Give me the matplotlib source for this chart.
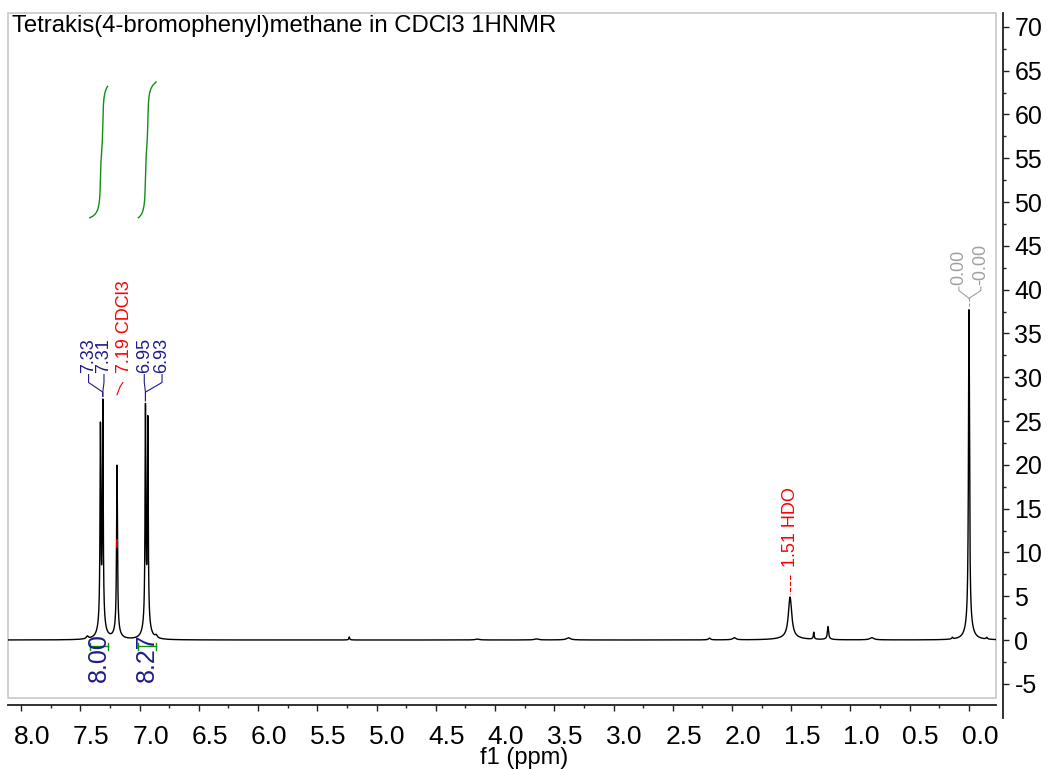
import numpy as np
import matplotlib
matplotlib.use('Agg')
import matplotlib.pyplot as plt
from matplotlib.patches import Rectangle
from matplotlib.ticker import MultipleLocator
from matplotlib.transforms import ScaledTranslation

plt.rcParams['font.family'] = ['Liberation Sans', 'DejaVu Sans']
plt.rcParams['axes.unicode_minus'] = False

title = 'Tetrakis(4-bromophenyl)methane in CDCl3 1HNMR'

# resolved lines: chemical shift (ppm), height, half width (ppm)
peak_ppm = [7.44, 7.33, 7.31, 7.19, 6.95, 6.93, 6.86, 5.23, 4.15, 3.65, 3.38,
            2.19, 1.98, 1.51, 1.31, 1.19, 0.82, 0.14, 0.00, -0.15]
peak_height = [0.3, 23.1, 25.9, 19.8, 25.4, 23.9, 0.3, 0.35, 0.1, 0.12, 0.25,
               0.2, 0.25, 4.9, 0.8, 1.5, 0.25, 0.2, 37.7, 0.2]
peak_width = [0.01, 0.004, 0.004, 0.0045, 0.004, 0.004, 0.01, 0.004, 0.02, 0.02, 0.02,
              0.01, 0.015, 0.017, 0.004, 0.006, 0.02, 0.005, 0.005, 0.006]

# integrals
int_start = [7.42, 7.01]
int_end = [7.27, 6.86]
int_value = [8.00, 8.27]

# peak picking labels
pick_text = ['7.33', '7.31', '6.95', '6.93']
pick_x = [7.43, 7.30, 6.96, 6.81]
pick_join = [7.31, 7.31, 6.95, 6.95]
tms_text = ['0.00', '-0.00']
tms_x = [0.085, -0.10]

xticks = np.arange(0.0, 8.01, 0.5)
yticks = np.arange(-5, 71, 5)

navy = '#1c1c8c'
green = '#109010'


def lorentz(x, x0, w):
    return 1.0 / (1.0 + ((x - x0) / w) ** 2)


ppm = np.linspace(8.2, -0.3, 34001)
intensity = np.zeros_like(ppm)
for p, h, w in zip(peak_ppm, peak_height, peak_width):
    intensity += h * (0.95 * lorentz(ppm, p, w) + 0.05 * lorentz(ppm, p, 6 * w))


def height_at(x):
    return np.interp(x, ppm[::-1], intensity[::-1])


fig = plt.figure(figsize=(10.47, 7.69), dpi=100)
ax = fig.add_axes([8 / 1047, 71 / 769, 988 / 1047, 685 / 769])
ax.set_xlim(8.11, -0.228)
ax.set_ylim(-6.62, 71.58)

ax.plot(ppm, intensity, color='black', lw=1.0)

# integral curves
int_base = 48.2
int_scale = 15.0 / 8.00
for s, e, v in zip(int_start, int_end, int_value):
    m = (ppm <= s) & (ppm >= e)
    cum = np.cumsum(intensity[m])
    cum = (cum - cum[0]) / (cum[-1] - cum[0])
    ax.plot(ppm[m], int_base + cum * v * int_scale, color=green, lw=1.0)
    ax.plot([s, e], [-0.7, -0.7], color=green, lw=1.0)
    ax.plot([s, s], [-1.1, -0.3], color=green, lw=1.0)
    ax.plot([e, e], [-1.1, -0.3], color=green, lw=1.0)
    ax.text((s + e) / 2, 0.8, '%.2f' % v, rotation=90, ha='center', va='top',
            fontsize=18, color=navy)

# multiplet peak labels
for t, x, j in zip(pick_text, pick_x, pick_join):
    ax.text(x, 30.5, t, rotation=90, ha='center', va='bottom', fontsize=13, color=navy)
    ax.plot([x, x, j, j], [30.3, 29.4, 28.3, height_at(j) + 0.3], color=navy, lw=0.8)

# solvent labels
ax.text(7.13, 30.5, '7.19 CDCl3', rotation=90, ha='center', va='bottom', fontsize=13, color='red')
ax.plot([7.14, 7.165, 7.19], [29.4, 28.9, 28.0], color='red', lw=0.8)
ax.plot([7.19, 7.19], [10.6, 11.4], color='red', lw=1.2)
ax.text(1.51, 8.3, '1.51 HDO', rotation=90, ha='center', va='bottom', fontsize=13, color='red')
ax.plot([1.51, 1.51], [7.4, height_at(1.51) + 0.4], color='red', lw=0.8, ls=(0, (4, 1.5)))

for t, x in zip(tms_text, tms_x):
    ax.text(x, 40.5, t, rotation=90, ha='center', va='bottom', fontsize=13, color='#a0a0a0')
    ax.plot([x, x, 0.0], [40.3, 39.9, 39.0], color='#a0a0a0', lw=0.8)
ax.plot([0.0, 0.0], [39.0, height_at(0.0) + 0.2], color='#a0a0a0', lw=0.8, ls=(0, (3, 1.5)))

ax.text(0.004, 0.972, title, transform=ax.transAxes, fontsize=17.2, va='baseline', ha='left')

# frame and axes
ax.add_patch(Rectangle((0, 0), 1, 1, transform=ax.transAxes, fill=False,
                       ec='#c8c8c8', lw=1.2, clip_on=False))
ax.spines['left'].set_visible(False)
ax.spines['top'].set_visible(False)
ax.spines['bottom'].set_position(('outward', 5))
ax.spines['right'].set_position(('outward', 5))
ax.spines['right'].set_bounds(-8.9, 71.58)
for side in ('bottom', 'right'):
    ax.spines[side].set_color('#202020')
    ax.spines[side].set_linewidth(1.3)

ax.yaxis.tick_right()
ax.set_yticks(yticks)
ax.yaxis.set_minor_locator(MultipleLocator(2.5))
ax.set_xticks(xticks)
ax.set_xticklabels(['%.1f' % v for v in xticks])
ax.xaxis.set_minor_locator(MultipleLocator(0.25))
ax.tick_params(axis='x', which='major', length=4.3, width=1, pad=10, labelsize=19, color='#202020')
ax.tick_params(axis='x', which='minor', length=2.2, width=1, color='#202020')
ax.tick_params(axis='y', which='major', length=4.3, width=1, pad=4, labelsize=18, color='#202020')
ax.tick_params(axis='y', which='minor', length=2.2, width=1, color='#202020')
shift = ScaledTranslation(0.11, 0, fig.dpi_scale_trans)
for lbl in ax.get_xticklabels():
    lbl.set_transform(lbl.get_transform() + shift)

fig.text(524 / 1047, 0.0, 'f1 (ppm)', ha='center', va='bottom', fontsize=17)

fig.savefig('out.png', dpi=100)
